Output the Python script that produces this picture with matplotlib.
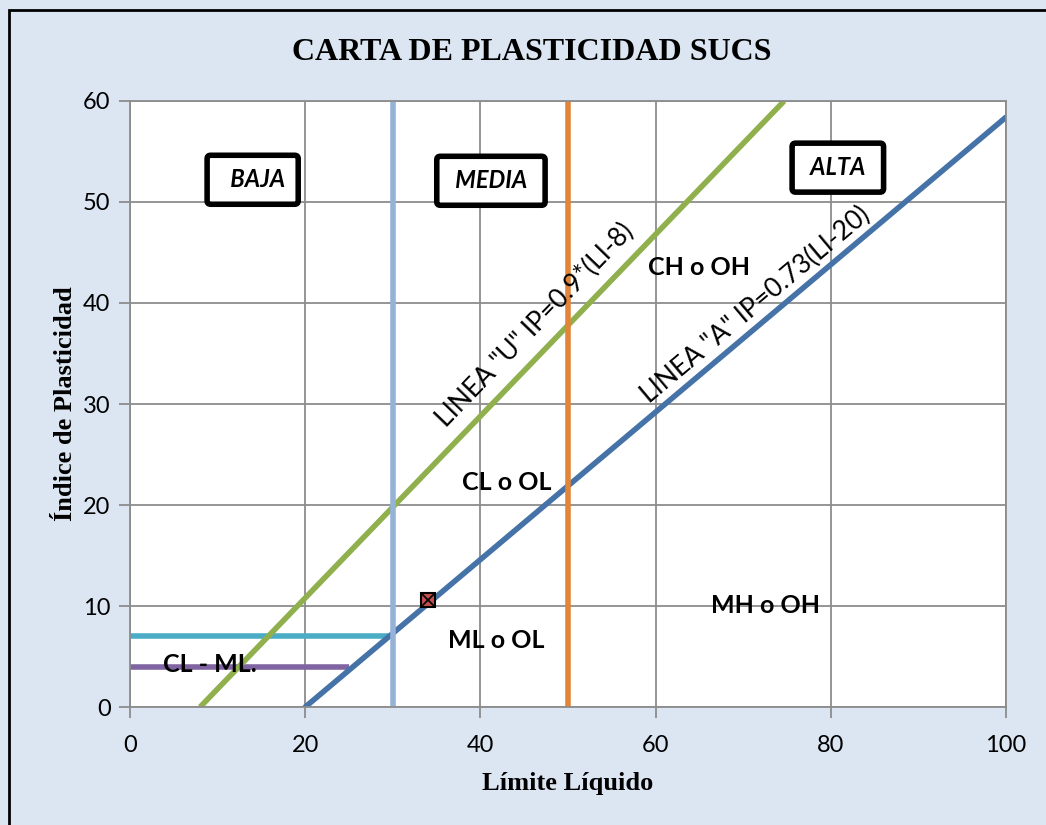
import matplotlib.pyplot as plt
from matplotlib.patches import Rectangle
import numpy as np

# Data
u_line_x = [8, 74.67]
u_line_y = [0, 60]
a_line_x = [20, 100]
a_line_y = [0, 58.4]
limit_low = 30
limit_high = 50
clml_upper = 7
clml_lower = 4
clml_lower_end = 25
sample_x = [34]
sample_y = [10.6]

bg = '#DCE6F2'
fig = plt.figure(figsize=(10.46, 8.25), dpi=100, facecolor=bg)
ax = fig.add_axes([0.1243, 0.1430, 0.8375, 0.7346])
ax.set_facecolor('white')

# Outer border
fig.patches.append(Rectangle((0.009, -0.01), 1.0, 0.998, transform=fig.transFigure,
                             fill=False, edgecolor='black', linewidth=2))

ax.plot([0, limit_low], [clml_upper, clml_upper], color='#4BACC6', lw=4, solid_capstyle='butt')
ax.plot([0, clml_lower_end], [clml_lower, clml_lower], color='#8064A2', lw=4, solid_capstyle='butt')
ax.plot(u_line_x, u_line_y, color='#8FB04C', lw=4, solid_capstyle='butt')
ax.plot(a_line_x, a_line_y, color='#4572A7', lw=4, solid_capstyle='round')
ax.axvline(limit_low, color='#95B3D7', lw=4)
ax.axvline(limit_high, color='#E0853A', lw=4)
ax.plot(sample_x, sample_y, marker='s', ms=10, color='#C0504D', mec='black', mew=1.5, ls='none', zorder=5)
ax.plot(sample_x, sample_y, marker='x', ms=8, color='black', mew=1.2, ls='none', zorder=6)

ax.set_xlim(0, 100)
ax.set_ylim(0, 60)
ax.set_xticks(np.arange(0, 101, 20))
ax.set_yticks(np.arange(0, 61, 10))
ax.grid(True, color='#8C8C8C', lw=1.3)
ax.set_axisbelow(True)
for s in ax.spines.values():
    s.set_color('#8C8C8C')
    s.set_linewidth(1.3)
ax.tick_params(colors='#8C8C8C', length=8, width=1.3, labelcolor='black', labelsize=17)
ax.tick_params(axis='x', pad=12)
ax.tick_params(axis='y', pad=6)
for lab in ax.get_xticklabels() + ax.get_yticklabels():
    lab.set_family('Lato')

ax.set_xlabel('Límite Líquido', fontsize=19, fontweight='bold', family='Liberation Serif', labelpad=12)
ax.set_ylabel('Índice de Plasticidad', fontsize=19, fontweight='bold', family='Liberation Serif', labelpad=4)
fig.text(0.508, 0.936, 'CARTA DE PLASTICIDAD SUCS', ha='center', va='center',
         fontsize=23, fontweight='bold', family='Liberation Serif')

box = dict(boxstyle='round,pad=0.55,rounding_size=0.15', fc='white', ec='black', lw=4)
ax.text(14.0, 52.2, '  BAJA', fontsize=17, fontweight='bold', style='italic', family='Lato',
        ha='center', va='center', bbox=box)
ax.text(41.2, 52.1, ' MEDIA ', fontsize=17, fontweight='bold', style='italic', family='Lato',
        ha='center', va='center', bbox=box)
ax.text(80.8, 53.4, ' ALTA ', fontsize=17, fontweight='bold', style='italic', family='Lato',
        ha='center', va='center', bbox=box)

tkw = dict(fontsize=18, fontweight='bold', family='Lato', ha='center', va='center')
ax.text(65.0, 43.5, 'CH o OH', **tkw)
ax.text(43.0, 22.2, 'CL o OL', **tkw)
ax.text(41.8, 6.6, 'ML o OL', **tkw)
ax.text(72.5, 10.1, 'MH o OH', **tkw)
ax.text(9.1, 4.2, 'CL - ML.', **tkw)

ax.text(46.3, 37.8, 'LINEA "U" IP=0.9*(LI-8)', fontsize=19, family='Lato', rotation=46,
        ha='center', va='center', rotation_mode='anchor')
ax.text(71.4, 39.8, 'LINEA "A" IP=0.73(LI-20)', fontsize=19, family='Lato', rotation=40,
        ha='center', va='center', rotation_mode='anchor')

fig.savefig('out.png', dpi=100, facecolor=bg)
